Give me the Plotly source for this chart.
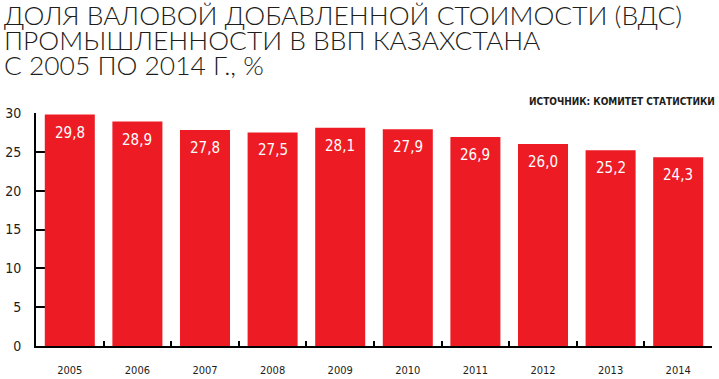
import plotly.graph_objects as go

years = ["2005", "2006", "2007", "2008", "2009", "2010", "2011", "2012", "2013", "2014"]
share = [29.8, 28.9, 27.8, 27.5, 28.1, 27.9, 26.9, 26.0, 25.2, 24.3]
y_ticks = [0, 5, 10, 15, 20, 25, 30]
title_lines = [
    "ДОЛЯ ВАЛОВОЙ ДОБАВЛЕННОЙ СТОИМОСТИ (ВДС)",
    "ПРОМЫШЛЕННОСТИ В ВВП КАЗАХСТАНА",
    "С 2005 ПО 2014 Г., %",
]
source_text = "ИСТОЧНИК: КОМИТЕТ СТАТИСТИКИ"

RED = "#ED1C24"
DARK = "#1d1d1b"
NARROW = "DejaVu Sans Condensed, Liberation Sans Narrow, sans-serif"

fig = go.Figure()
fig.add_trace(go.Bar(
    x=years, y=share, marker=dict(color=RED, line=dict(width=0)),
    hoverinfo="skip",
))

annotations = []
for i, v in enumerate(share):
    annotations.append(dict(
        x=i, y=v, xref="x", yref="y", text=f"{v:.1f}".replace(".", ","),
        showarrow=False, yanchor="top", yshift=-7,
        font=dict(family=NARROW, size=15, color="white"),
    ))

# title lines (pixel layout: plot area x 36..712, y 113..346)
plot_w = 676.0
plot_h = 233.0
for i, line in enumerate(title_lines):
    base_px = 33 + 25 * i
    annotations.append(dict(
        x=(2 - 36) / plot_w, y=(346 - base_px) / plot_h, xref="paper", yref="paper",
        text=line, showarrow=False, xanchor="left", yanchor="bottom",
        font=dict(family="Lato, Open Sans, sans-serif", size=26.4, color=DARK, weight=300),
    ))

annotations.append(dict(
    x=(717 - 36) / plot_w, y=(346 - 109) / plot_h, xref="paper", yref="paper",
    text=source_text, showarrow=False, xanchor="right", yanchor="bottom",
    font=dict(family=NARROW, size=10, color=DARK, weight="bold"),
))

fig.update_layout(
    width=719, height=379,
    margin=dict(l=36, r=7, t=113, b=33, pad=0),
    paper_bgcolor="white", plot_bgcolor="white",
    showlegend=False, bargap=0.26,
    annotations=annotations,
    xaxis=dict(
        type="category", range=[-0.5, 9.5], automargin=False,
        showline=True, linecolor="black", linewidth=2,
        ticks="inside", ticklen=5, tickwidth=2, tickcolor="black",
        tickson="boundaries", showgrid=False, zeroline=False,
        tickfont=dict(family=NARROW, size=11, color=DARK),
        ticklabelstandoff=13, layer="below traces",
    ),
    yaxis=dict(
        range=[0, 30], tickvals=y_ticks, ticktext=[str(t) for t in y_ticks],
        automargin=False,
        showline=True, linecolor="black", linewidth=2,
        ticks="inside", ticklen=17, tickwidth=2, tickcolor="black",
        showgrid=False, zeroline=False,
        tickfont=dict(family=NARROW, size=14, color=DARK),
        ticklabelstandoff=10, layer="below traces",
    ),
)

fig.write_html("out.html", config={"displayModeBar": False},
               post_script="document.body.style.margin='0px';")
